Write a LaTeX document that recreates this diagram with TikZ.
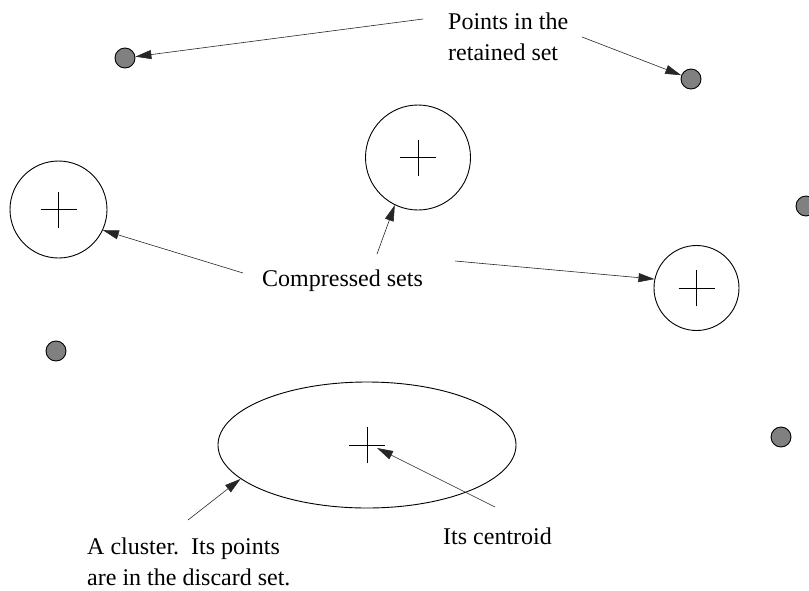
\documentclass[tikz,border=0pt]{standalone}
\usepackage{fontspec}
\setmainfont{Liberation Serif}
\usetikzlibrary{arrows.meta,shapes.geometric}
\tikzset{
  pt/.style={circle,draw=black,line width=0.9pt,fill=black!50,minimum size=20pt,inner sep=0pt},
  cset/.style={circle,draw=black,line width=0.9pt,inner sep=0pt},
  lbl/.style={anchor=north west,inner sep=0pt,align=left,font=\fontsize{24}{31}\selectfont},
  ptr/.style={draw=black!85,line width=0.6pt,-{Triangle[length=16pt,width=9pt]}},
  crossline/.style={line width=0.9pt}
}
\begin{document}
\begin{tikzpicture}[x=1pt,y=-1pt]
\useasboundingbox (0,0) rectangle (809,590);
% points in retained set
\node[pt] (p1) at (125,58) {};
\node[pt] (p2) at (691,79) {};
\node[pt] (p3) at (806,206) {};
\node[pt] (p4) at (56,351) {};
\node[pt] (p5) at (781,437) {};
% compressed sets
\node[cset,minimum size=97pt] (lc) at (58.5,209.5) {};
\node[cset,minimum size=105pt] (tc) at (418,157.5) {};
\node[cset,minimum size=85pt] (rc) at (696.5,288) {};
\node[ellipse,draw=black,line width=0.9pt,minimum width=298pt,minimum height=126pt,inner sep=0pt] (cl) at (367,445) {};
% crosses
\foreach \n in {lc,tc,rc,cl}{
  \draw[crossline] ([xshift=-18pt]\n.center) -- ([xshift=18pt]\n.center);
  \draw[crossline] ([yshift=-18pt]\n.center) -- ([yshift=18pt]\n.center);
}
% labels
\node[lbl] (tret) at (448,13) {Points in the\\retained set};
\node[lbl] (tcomp) at (262,270) {Compressed sets};
\node[lbl] (tcen) at (443,528) {Its centroid};
\node[lbl] (tclu) at (87,538) {A cluster.\ \ Its points\\are in the discard set.};
% arrow start coordinates
\coordinate (s1) at (423,19);
\coordinate (s2) at (582,37);
\coordinate (s3) at (243,273);
\coordinate (s4) at (377,254);
\coordinate (s5) at (455,261);
\coordinate (s6) at (188,520);
\coordinate (s7) at (495,507);
\coordinate (ctip) at (377,448);
% arrows
\draw[ptr] (s1) -- (p1);
\draw[ptr] (s2) -- (p2);
\draw[ptr] (s3) -- (lc.-25);
\draw[ptr] (s4) -- (tc.-116);
\draw[ptr] (s5) -- (rc.168);
\draw[ptr] (s6) -- (cl.195.6);
\draw[ptr] (s7) -- (ctip);
\end{tikzpicture}
\end{document}
